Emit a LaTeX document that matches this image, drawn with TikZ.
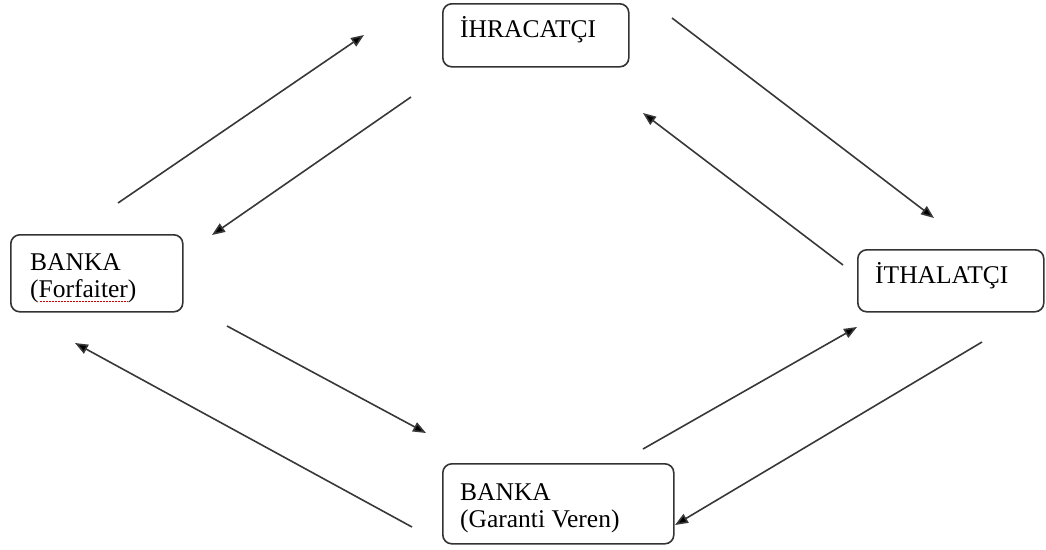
\documentclass[tikz,border=0pt]{standalone}
\usepackage{fontspec}
\setmainfont{Liberation Serif}
\usetikzlibrary{arrows.meta}
\begin{document}
\begin{tikzpicture}[x=1pt,y=-1pt,
  box/.style={draw=black!80, line width=1.6pt, rounded corners=9pt, inner sep=0pt, anchor=north west},
  lbl/.style={inner sep=0pt, anchor=base west, font=\fontsize{25.5}{27}\selectfont, text=black},
  flow/.style={draw=black!78, line width=1.6pt, -{Triangle[length=13pt,width=10pt,fill=black]}}]
\useasboundingbox (0,0) rectangle (1046,549);
% boxes
\node[box, minimum width=186pt, minimum height=63pt] (ihr) at (442,3) {};
\node[box, minimum width=172pt, minimum height=77pt] (forf) at (10,234) {};
\node[box, minimum width=186pt, minimum height=62pt] (ith) at (857,249) {};
\node[box, minimum width=231pt, minimum height=80pt] (gar) at (442,463) {};
% texts
\node[lbl] (ihrT) at (460,37) {İHRACATÇI};
\node[lbl] (forfT1) at (30,270) {BANKA};
\node[lbl] (forfT2) at (30,297) {(Forfaiter)};
\node[lbl] (ithT) at (875,283) {İTHALATÇI};
\node[lbl] (garT1) at (460,500) {BANKA};
\node[lbl] (garT2) at (460,527) {(Garanti Veren)};
\draw[red!80!black, line width=1pt, dash pattern=on 1.5pt off 1.5pt] (40,301) -- (128,301);
% arrow end points
\coordinate (a1s) at (118,203); \coordinate (a1e) at (364,35);
\coordinate (a2s) at (411,97);  \coordinate (a2e) at (212,235);
\coordinate (a3s) at (672,18);  \coordinate (a3e) at (934,218);
\coordinate (a4s) at (843,265); \coordinate (a4e) at (643,113);
\coordinate (a5s) at (227,326); \coordinate (a5e) at (426,433);
\coordinate (a6s) at (412,527); \coordinate (a6e) at (75,343);
\coordinate (a7s) at (643,449); \coordinate (a7e) at (857,327);
\coordinate (a8s) at (982,342); \coordinate (a8e) at (675,525);
\draw[flow] (a1s) -- (a1e);
\draw[flow] (a2s) -- (a2e);
\draw[flow] (a3s) -- (a3e);
\draw[flow] (a4s) -- (a4e);
\draw[flow] (a5s) -- (a5e);
\draw[flow] (a6s) -- (a6e);
\draw[flow] (a7s) -- (a7e);
\draw[flow] (a8s) -- (a8e);
\end{tikzpicture}
\end{document}
